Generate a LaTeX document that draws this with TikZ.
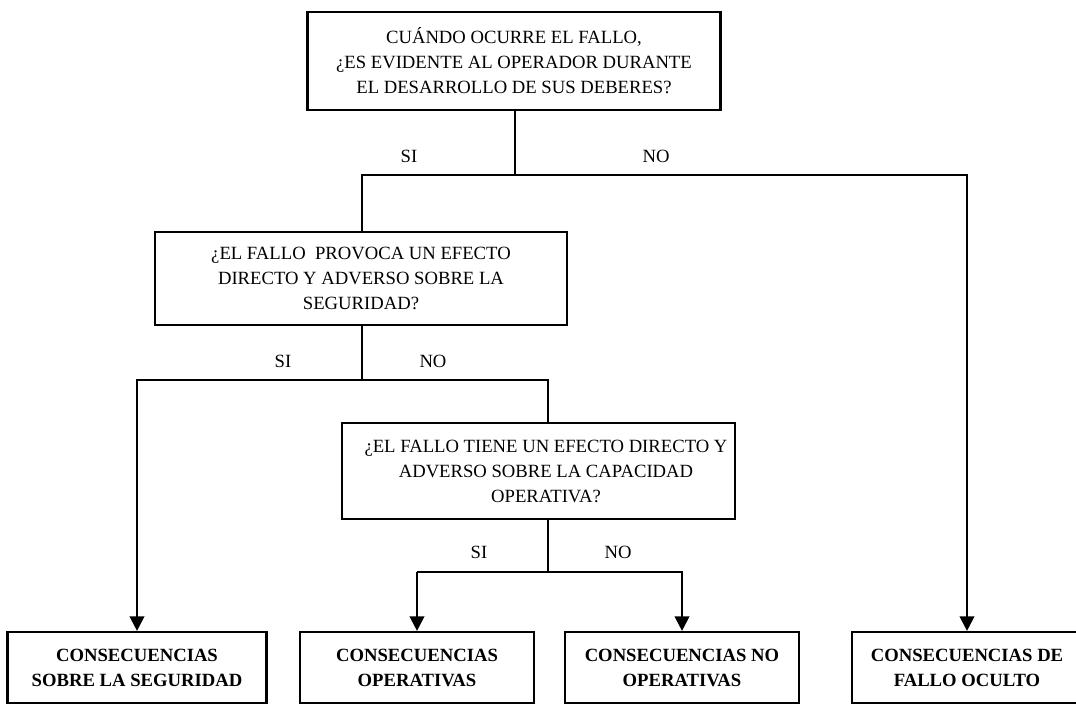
\documentclass[tikz,border=0pt]{standalone}
\usepackage{fontspec}
\setmainfont{Liberation Serif}
\usetikzlibrary{arrows.meta}
\def\pxu{0.75pt}
\begin{document}
\begin{tikzpicture}[x=0.75pt,y=-0.75pt,
  every node/.style={font=\fontsize{14}{18.75}\selectfont, inner sep=0pt},
  box/.style={draw, line width=1.6pt, align=center},
  outcome/.style={box, font=\fontsize{14}{18.75}\selectfont\bfseries},
  lab/.style={},
  link/.style={line width=1.6pt},
  arr/.style={link, -{Triangle[length=11pt,width=11pt]}}]
\useasboundingbox (0,0) rectangle (1076,705);

% decision boxes
\node[box, minimum width=413*\pxu, minimum height=98*\pxu] (q1) at (514,61)
  {CUÁNDO OCURRE EL FALLO,\\¿ES EVIDENTE AL OPERADOR DURANTE\\EL DESARROLLO DE SUS DEBERES?};
\node[box, minimum width=412*\pxu, minimum height=93*\pxu] (q2) at (361,278.5)
  {¿EL FALLO~ PROVOCA UN EFECTO\\DIRECTO Y ADVERSO SOBRE LA\\SEGURIDAD?};
\node[box, minimum width=393*\pxu, minimum height=96*\pxu] (q3) at (538.5,471) {};
\node[align=center] (q3t) at (546,471)
  {¿EL FALLO TIENE UN EFECTO DIRECTO Y\\ADVERSO SOBRE LA CAPACIDAD\\OPERATIVA?};

% outcome boxes
\node[outcome, minimum width=259*\pxu, minimum height=71*\pxu] (c1) at (137,667.5)
  {CONSECUENCIAS\\SOBRE LA SEGURIDAD};
\node[outcome, minimum width=234*\pxu, minimum height=71*\pxu] (c2) at (417,667.5)
  {CONSECUENCIAS\\OPERATIVAS};
\node[outcome, minimum width=234*\pxu, minimum height=71*\pxu] (c3) at (682,667.5)
  {CONSECUENCIAS NO\\OPERATIVAS};
\node[outcome, minimum width=230*\pxu, minimum height=71*\pxu] (c4) at (967,667.5)
  {CONSECUENCIAS DE\\FALLO OCULTO};

% branch points
\coordinate (j1) at (515,175);
\coordinate (j2) at (362,380);
\coordinate (j2r) at (548,380);
\coordinate (j3) at (548,572);

% connectors
\draw[link] (q1.south -| j1) -- (j1);
\draw[arr] (q2.north -| j2) -- (j2 |- j1) -- (c4.north |- j1) -- (c4.north);
\draw[link] (q2.south -| j2) -- (j2);
\draw[arr] (q3.north -| j2r) -- (j2r) -- (c1.north |- j2) -- (c1.north);
\draw[link] (q3.south -| j3) -- (j3);
\draw[arr] (c2.north |- j3) -- (c2.north);
\draw[arr] (c2.north |- j3) -- (c3.north |- j3) -- (c3.north);

% branch labels
\node[lab] (l1) at (409,156) {SI};
\node[lab] (l2) at (656,156) {NO};
\node[lab] (l3) at (283,361) {SI};
\node[lab] (l4) at (433,361) {NO};
\node[lab] (l5) at (479,552) {SI};
\node[lab] (l6) at (618,552) {NO};
\end{tikzpicture}
\end{document}
